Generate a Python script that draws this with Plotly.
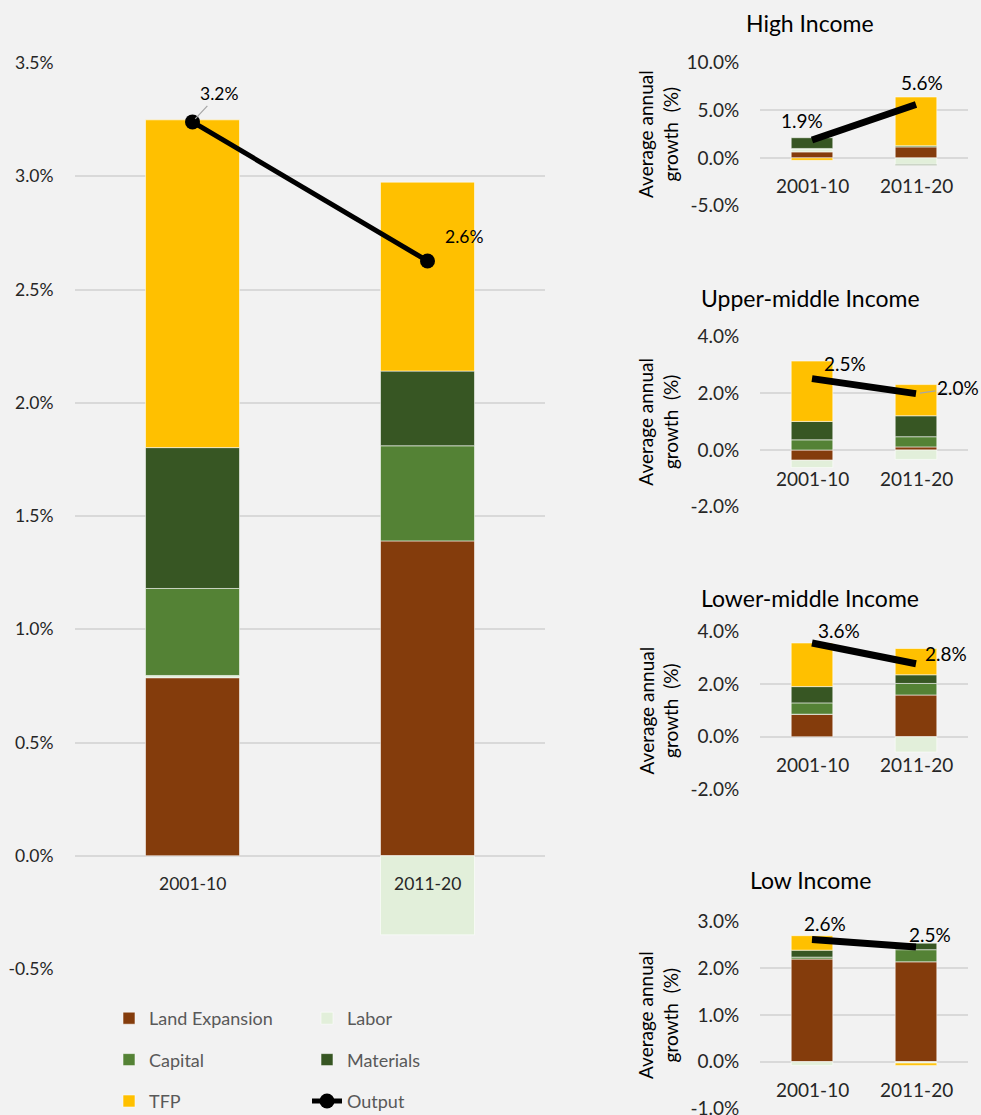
import plotly.graph_objects as go

W, H = 981, 1115
FONT = "Lato"

periods = ["2001-10", "2011-20"]
series_names = ["Land Expansion", "Labor", "Capital", "Materials", "TFP"]
series_colors = ["#843C0C", "#E2EFDA", "#548235", "#375623", "#FFC000"]

# World (main panel), average annual growth in %
world_land = [0.786, 1.39]
world_labor = [0.01, -0.349]
world_capital = [0.384, 0.42]
world_materials = [0.622, 0.33]
world_tfp = [1.447, 0.834]
world_output = [3.24, 2.626]

# High income
high_land = [0.63, 1.15]
high_labor = [0.31, -0.68]
high_capital = [0.05, 0.12]
high_materials = [1.12, -0.10]
high_tfp = [-0.25, 5.10]
high_output = [1.87, 5.59]

# Upper-middle income
upper_land = [-0.36, 0.11]
upper_labor = [-0.26, -0.33]
upper_capital = [0.36, 0.36]
upper_materials = [0.65, 0.74]
upper_tfp = [2.13, 1.10]
upper_output = [2.52, 1.99]

# Lower-middle income
lower_land = [0.86, 1.59]
lower_labor = [0.0, -0.58]
lower_capital = [0.43, 0.44]
lower_materials = [0.62, 0.33]
lower_tfp = [1.66, 1.00]
lower_output = [3.57, 2.78]

# Low income
low_land = [2.20, 2.14]
low_labor = [-0.08, -0.03]
low_capital = [0.04, 0.26]
low_materials = [0.15, 0.14]
low_tfp = [0.31, -0.05]
low_output = [2.62, 2.46]

panel_titles = ["High Income", "Upper-middle Income", "Lower-middle Income", "Low Income"]
main_ticks = [-0.5, 0.0, 0.5, 1.0, 1.5, 2.0, 2.5, 3.0, 3.5]
high_ticks = [-5.0, 0.0, 5.0, 10.0]
upper_ticks = [-2.0, 0.0, 2.0, 4.0]
lower_ticks = [-2.0, 0.0, 2.0, 4.0]
low_ticks = [-1.0, 0.0, 1.0, 2.0, 3.0]
y_title = "Average annual<br>growth  (%)"

panels = [
    ("", [world_land, world_labor, world_capital, world_materials, world_tfp], world_output, main_ticks),
    ("2", [high_land, high_labor, high_capital, high_materials, high_tfp], high_output, high_ticks),
    ("3", [upper_land, upper_labor, upper_capital, upper_materials, upper_tfp], upper_output, upper_ticks),
    ("4", [lower_land, lower_labor, lower_capital, lower_materials, lower_tfp], lower_output, lower_ticks),
    ("5", [low_land, low_labor, low_capital, low_materials, low_tfp], low_output, low_ticks),
]

def py(px):
    return 1 - px / H

def pxx(px):
    return px / W

fig = go.Figure()
legend_of = {"Land Expansion": "legend", "Capital": "legend", "TFP": "legend",
             "Labor": "legend2", "Materials": "legend2", "Output": "legend2"}

for idx, (suffix, comps, output, ticks) in enumerate(panels):
    xa, ya = "x" + suffix, "y" + suffix
    main = idx == 0
    for name, color, vals in zip(series_names, series_colors, comps):
        fig.add_trace(go.Bar(
            x=periods, y=vals, name=name, xaxis=xa, yaxis=ya,
            marker=dict(color=color, line=dict(color="rgba(255,255,255,0.55)", width=1)),
            showlegend=main, legend=legend_of[name], legendgroup=name,
            hoverinfo="skip"))
    fig.add_trace(go.Scatter(
        x=periods, y=output, name="Output", xaxis=xa, yaxis=ya,
        mode="lines+markers" if main else "lines",
        line=dict(color="black", width=5 if main else 7),
        marker=dict(size=15, color="black"),
        showlegend=main, legend="legend2", legendgroup="Output", hoverinfo="skip"))

# axes geometry (pixel positions of plot areas)
main_x = [75, 545]
small_x = [760, 968]
y_px = {
    "": (63, 969),
    "2": (62.3, 205.7),
    "3": (336.7, 506.7),
    "4": (631.7, 789.3),
    "5": (921.7, 1108.3),
}

layout = dict(
    width=W, height=H,
    margin=dict(l=0, r=0, t=0, b=0, autoexpand=False),
    paper_bgcolor="#F2F2F2", plot_bgcolor="#F2F2F2",
    barmode="relative", bargap=0.6,
    font=dict(family=FONT, color="#262626"),
    showlegend=True,
)

annotations = []
for idx, (suffix, comps, output, ticks) in enumerate(panels):
    main = idx == 0
    xr = main_x if main else small_x
    top, bot = y_px[suffix]
    fs = 17.5 if main else 19
    layout["xaxis" + suffix] = dict(
        domain=[pxx(xr[0]), pxx(xr[1])], anchor="y" + suffix, type="category",
        range=[-0.5, 1.5], showticklabels=False, showgrid=False, zeroline=False,
        showline=False, fixedrange=True)
    layout["yaxis" + suffix] = dict(
        domain=[py(bot), py(top)], anchor="x" + suffix,
        range=[ticks[0], ticks[-1]], tickvals=ticks,
        ticktext=[f"{t:.1f}%" for t in ticks],
        showgrid=True, gridcolor="#D9D9D9", gridwidth=1.5, zeroline=False,
        showline=False, ticks="outside", ticklen=17 if main else 16,
        tickcolor="rgba(0,0,0,0)", tickfont=dict(size=fs, family=FONT, color="#262626"),
        ticklabeloverflow="allow",
        automargin=False, fixedrange=True)
    # category labels next to the zero line
    for p in periods:
        annotations.append(dict(
            x=p, y=0, xref="x" + suffix, yref="y" + suffix, text=p, showarrow=False,
            yshift=-28, yanchor="middle", font=dict(size=fs, family=FONT, color="#262626")))

# data labels for output
label_offsets = {
    "": [(26, 28, True), (36, 24, False)],
    "2": [(-10, 20, False), (6, 22, False)],
    "3": [(33, 15, False), (42, 6, True)],
    "4": [(27, 12, False), (30, 10, False)],
    "5": [(13, 16, False), (14, 12, False)],
}
for idx, (suffix, comps, output, ticks) in enumerate(panels):
    main = idx == 0
    fs = 17.5 if main else 19
    for p, v, (dx, dy, leader) in zip(periods, output, label_offsets[suffix]):
        txt = f"{v:.1f}%"
        if leader:
            annotations.append(dict(
                x=p, y=v, xref="x" + suffix, yref="y" + suffix, text=txt,
                showarrow=True, arrowhead=0, arrowwidth=1.2, arrowcolor="#A6A6A6",
                ax=dx, ay=-dy, standoff=4, font=dict(size=fs, family=FONT, color="#000000")))
        else:
            annotations.append(dict(
                x=p, y=v, xref="x" + suffix, yref="y" + suffix, text=txt,
                showarrow=False, xshift=dx, yshift=dy,
                font=dict(size=fs, family=FONT, color="#000000")))

# panel titles and y-axis titles for the small panels
title_px = [23, 298, 598, 880]
for suffix, title, tpx in zip(["2", "3", "4", "5"], panel_titles, title_px):
    annotations.append(dict(
        x=pxx(810), y=py(tpx), xref="paper", yref="paper", text=title,
        showarrow=False, xanchor="center", yanchor="middle",
        font=dict(size=23, family=FONT, color="#000000")))
    annotations.append(dict(
        x=pxx(658), y=0.5, xref="paper", yref="y" + suffix + " domain", text=y_title,
        textangle=-90, showarrow=False, xanchor="center", yanchor="middle",
        font=dict(size=19, family=FONT, color="#000000")))

layout["annotations"] = annotations
layout["legend"] = dict(
    x=pxx(109), y=py(1000), xanchor="left", yanchor="top", orientation="v",
    bgcolor="rgba(0,0,0,0)", font=dict(size=18, family=FONT, color="#595959"),
    tracegroupgap=15, traceorder="grouped")
layout["legend2"] = dict(
    x=pxx(307), y=py(1000), xanchor="left", yanchor="top", orientation="v",
    bgcolor="rgba(0,0,0,0)", font=dict(size=18, family=FONT, color="#595959"),
    tracegroupgap=15, traceorder="grouped")

fig.update_layout(**layout)
fig.write_html("out.html", config={"displayModeBar": False},
               post_script="document.body.style.margin='0';document.body.style.background='#F2F2F2';")
